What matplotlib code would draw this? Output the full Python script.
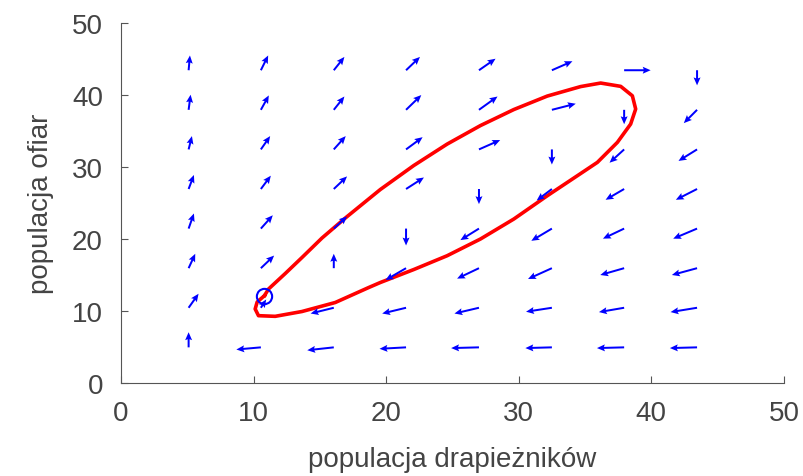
import matplotlib
matplotlib.use('Agg')
import matplotlib.pyplot as plt
import numpy as np

plt.rcParams['font.family'] = ['Liberation Sans', 'DejaVu Sans']

# siatka strzałek (populacja drapieżników / ofiar)
grid_x = [5.1, 10.55, 16.05, 21.5, 27.0, 32.5, 37.95, 43.45]
grid_y = [4.95, 10.45, 15.95, 21.45, 26.95, 32.45, 37.95, 43.45]

# składowe strzałek, wiersze od dołu
arrow_u = [
    [0.0, -1.85, -2.0, -2.0, -2.1, -2.0, -2.05, -2.05],
    [0.75, 0.4, -1.75, -1.8, -1.85, -1.95, -1.9, -2.0],
    [0.5, 1.0, 0.0, -1.55, -1.65, -1.8, -1.8, -1.9],
    [0.4, 0.9, 1.0, 0.0, -1.4, -1.55, -1.6, -1.8],
    [0.4, 0.75, 1.0, 1.35, 0.0, -1.15, -1.4, -1.6],
    [0.25, 0.7, 0.9, 1.25, 1.6, 0.0, -1.1, -1.4],
    [0.15, 0.6, 0.8, 1.15, 1.4, 1.8, 0.0, -1.0],
    [0.1, 0.55, 0.8, 1.05, 1.25, 1.55, 2.0, 0.0],
]
arrow_v = [
    [2.1, -0.3, -0.4, -0.2, -0.1, -0.1, -0.1, -0.1],
    [1.95, 1.15, -0.8, -0.8, -0.8, -0.55, -0.6, -0.6],
    [2.0, 1.75, 2.0, -1.65, -1.45, -1.5, -0.95, -0.95],
    [2.1, 1.85, 1.7, -2.35, -1.6, -1.7, -1.4, -1.4],
    [1.95, 1.85, 1.75, 1.6, -2.1, -1.6, -1.5, -1.5],
    [1.85, 1.85, 1.85, 1.7, 1.3, -2.1, -1.85, -1.6],
    [2.1, 2.0, 1.85, 2.05, 1.85, 0.85, -2.0, -1.85],
    [2.05, 2.05, 1.85, 1.85, 1.6, 1.25, 0.0, -2.1],
]

# trajektoria
traj_x = [10.82, 11.13, 12.39, 13.65, 15.16, 16.92, 18.68, 19.56, 22.08, 24.60,
          27.11, 29.63, 32.15, 34.67, 36.18, 37.69, 38.57, 38.82, 38.44, 37.44,
          35.93, 34.67, 32.15, 29.63, 27.11, 24.60, 22.08, 19.56, 18.68, 16.16,
          13.65, 11.63, 10.37, 10.12, 10.27, 10.82]
traj_y = [12.13, 13.06, 15.21, 17.43, 20.14, 22.92, 25.56, 26.88, 30.21, 33.19,
          35.76, 37.99, 39.86, 41.18, 41.67, 41.21, 39.90, 38.06, 35.97, 33.43,
          30.65, 29.10, 26.01, 22.78, 20.00, 17.68, 15.76, 13.96, 13.26, 11.18,
          9.93, 9.26, 9.35, 10.28, 11.25, 12.13]

start_x = [10.82]
start_y = [12.13]

X, Y = np.meshgrid(grid_x, grid_y)
U = np.array(arrow_u)
V = np.array(arrow_v)

fig = plt.figure(figsize=(8.04, 4.77), dpi=100)
ax = fig.add_axes([0.1505, 0.195, 0.8245, 0.7545])

ax.plot(traj_x, traj_y, color='red', lw=2.6, zorder=2, solid_joinstyle='round')
ax.quiver(X, Y, U, V, angles='xy', scale_units='xy', scale=1, color='blue',
          width=0.003, headwidth=3.5, headlength=4, headaxislength=3.5, zorder=3)
ax.plot(start_x, start_y, 'o', mfc='none', mec='blue', ms=11, mew=1.5, zorder=4)

ax.set_xlim(0, 50)
ax.set_ylim(0, 50)
ax.set_xticks([0, 10, 20, 30, 40, 50])
ax.set_yticks([0, 10, 20, 30, 40, 50])

for s in ['top', 'right']:
    ax.spines[s].set_visible(False)
for s in ['left', 'bottom']:
    ax.spines[s].set_color('#555555')

ax.tick_params(direction='in', length=5, color='#555555', labelcolor='#444444',
               labelsize=20)
ax.tick_params(axis='x', pad=12)
ax.tick_params(axis='y', pad=13)

ax.set_xlabel('populacja drapieżników', fontsize=20, color='#444444', labelpad=15)
ax.set_ylabel('populacja ofiar', fontsize=20, color='#444444', labelpad=13)

plt.savefig('out.png', dpi=100)
